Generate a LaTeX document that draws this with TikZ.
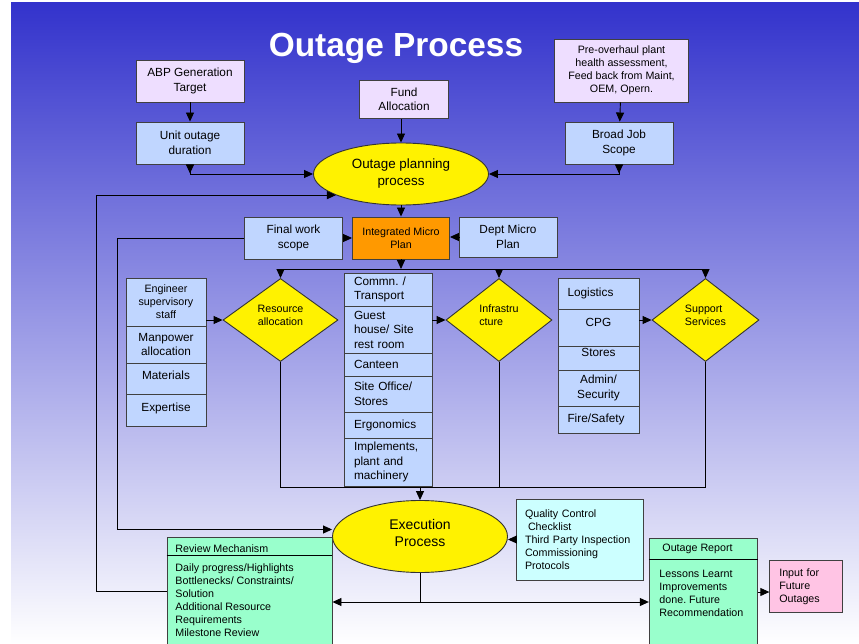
\documentclass[tikz,border=0pt]{standalone}
\usepackage{fontspec}
\setmainfont{Liberation Sans}
\usetikzlibrary{shapes.geometric,arrows.meta}
\definecolor{slidetop}{RGB}{51,51,204}
\definecolor{lilac}{RGB}{238,222,255}
\definecolor{paleblue}{RGB}{192,214,255}
\definecolor{deeporange}{RGB}{255,153,0}
\definecolor{mint}{RGB}{153,255,204}
\definecolor{paleaqua}{RGB}{204,255,255}
\definecolor{palepink}{RGB}{255,196,228}
\frenchspacing
\begin{document}
\begin{tikzpicture}[x=1pt, y=-1pt, line width=0.9pt,
  big/.style={font=\fontsize{11.8}{14.5}\selectfont},
  small/.style={font=\fontsize{10.7}{13}\selectfont},
  box/.style={draw=black!75, inner sep=0pt, align=center, big},
  cell/.style={box, fill=paleblue},
  dia/.style={diamond, draw=black!80, fill=yellow, inner sep=0pt, align=center, text depth=10pt, small},
  oval/.style={ellipse, draw=black!80, fill=yellow, inner sep=0pt, align=center},
  arr/.style={-{Triangle[length=9pt,width=8pt]}},
  twoarr/.style={{Triangle[reversed,length=9pt,width=8pt]}-{Triangle[length=9pt,width=8pt]}},
]
\fill[white] (0,0) rectangle (859,644);
\shade[top color=slidetop, bottom color=white] (11,3) rectangle (859,644);
\useasboundingbox (0,0) rectangle (859,644);
\node[text=white, font=\fontsize{33.4}{40}\bfseries\selectfont] (title) at (396,48) {Outage Process};
\node[box, fill=lilac, minimum width=108, minimum height=42] (abp) at (190,81) {ABP Generation\\Target};
\node[box, fill=paleblue, minimum width=108, minimum height=42] (unit) at (190,143) {Unit outage\\duration};
\draw[arr] (abp) -- (unit);
\node[box, fill=lilac, minimum width=89, minimum height=38] (fund) at (404,99.5) {Fund\\Allocation};
\node[box, fill=lilac, small, minimum width=134, minimum height=63] (pre) at (621.5,70.5) {Pre-overhaul plant\\health assessment,\\Feed back from Maint,\\OEM, Opern.};
\node[box, fill=paleblue, minimum width=108, minimum height=42] (broad) at (619,143) {Broad Job\\Scope};
\draw[arr] (pre) -- (broad);
\node[oval, minimum width=175, minimum height=62, font=\fontsize{13.4}{17}\selectfont] (plan) at (401,174) {Outage planning\\process};
\draw[arr] (fund.south -| plan.north) -- (plan.north);
\draw[twoarr] (unit.south) |- (plan.west);
\draw[twoarr] (broad.south) |- (plan.east);
\node[box, fill=paleblue, minimum width=98, minimum height=42] (final) at (293.5,238) {Final work\\scope};
\node[box, fill=deeporange, small, minimum width=97, minimum height=42] (micro) at (401,238) {Integrated Micro\\Plan};
\node[box, fill=paleblue, minimum width=98, minimum height=40] (dept) at (508,237) {Dept Micro\\Plan};
\draw[arr] (plan) -- (micro);
\draw[arr] (final) -- (micro);
\draw[arr] (dept.west) -- (dept.west -| micro.east);
\coordinate (split) at (401,269);
\draw[arr] (micro) -- (split);
\node[dia, minimum width=115, minimum height=83] (resource) at (280.5,320) {Resource\\allocation};
\node[dia, align=left, minimum width=106, minimum height=83] (infra) at (499,320) {Infrastru\\cture};
\node[dia, align=left, minimum width=107, minimum height=83] (support) at (705.5,320) {Support\\Services};
\draw[arr] (split) -| (resource);
\draw[arr] (split) -| (infra);
\draw[arr] (split) -| (support);
\node[cell, small, minimum width=80, minimum height=48] (engineer) at (166,302) {Engineer\\supervisory\\staff};
\node[cell, minimum width=80, minimum height=37] (manpower) at (166,344.5) {Manpower\\allocation};
\node[cell, text depth=6pt, minimum width=80, minimum height=31] (materials) at (166,378.5) {Materials};
\node[cell, text depth=6pt, minimum width=80, minimum height=32] (expertise) at (166,410) {Expertise};
\draw[arr] (engineer.east |- resource.west) -- (resource.west);
\node[cell, align=left, text width=68, minimum width=88, minimum height=33] (commn) at (388,289.5) {Commn. /\\Transport};
\node[cell, align=left, text width=68, minimum width=88, minimum height=47] (guest) at (388,329.5) {Guest\\house/ Site\\rest room};
\node[cell, align=left, text width=68, minimum width=88, minimum height=23] (canteen) at (388,364.5) {Canteen};
\node[cell, align=left, text width=68, minimum width=88, minimum height=36] (office) at (388,394) {Site Office/\\Stores};
\node[cell, align=left, text width=68, minimum width=88, minimum height=26] (ergo) at (388,425) {Ergonomics};
\node[cell, align=left, text width=68, minimum width=88, minimum height=48] (implements) at (388,462) {Implements,\\plant and\\machinery};
\draw[arr] (guest.east |- infra.west) -- (infra.west);
\node[cell, align=left, text width=62, minimum width=81, minimum height=31] (logistics) at (598.5,293.5) {Logistics};
\node[cell, text depth=10pt, minimum width=81, minimum height=37] (cpg) at (598.5,327.5) {CPG};
\node[cell, text depth=11pt, minimum width=81, minimum height=24] (stores) at (598.5,358) {Stores};
\node[cell, minimum width=81, minimum height=36] (admin) at (598.5,388) {Admin/\\Security};
\node[cell, align=left, text width=62, minimum width=81, minimum height=27] (fire) at (598.5,419.5) {Fire/Safety};
\draw[arr] (cpg.east |- support.west) -- (support.west);
\coordinate (merge) at (420,487);
\draw (resource.south) |- (merge);
\draw (infra.south) |- (merge);
\draw (support.south) |- (merge);
\node[oval, minimum width=175, minimum height=72, text depth=8pt, font=\fontsize{14}{17}\selectfont] (exec) at (420,536.5) {Execution\\Process};
\draw[arr] (merge) -- (exec);
\draw[arr] (final.west) -- ++(-127,0) |- ([yshift=7pt]exec.west);
\node[box, fill=paleaqua, small, align=left, text width=110, minimum width=127, minimum height=81] (qc) at (580,539.5) {Quality Control\\\hspace*{3pt}Checklist\\Third Party Inspection\\Commissioning\\Protocols};
\draw[arr] (qc.west) -- (qc.west -| exec.east);
\node[box, fill=mint, minimum width=165, minimum height=108] (review) at (249.5,591) {};
\node[small, anchor=west, inner sep=0pt] (reviewhead) at (175,548.3) {Review Mechanism};
\draw ([yshift=-19pt]review.north west) -- ([yshift=-19pt]review.north east);
\node[small, anchor=north west, align=left, inner sep=0pt] (reviewtext) at (175,563.3) {Daily progress/Highlights\\Bottlenecks/ Constraints/\\Solution\\Additional Resource\\Requirements\\Milestone Review};
\node[box, fill=mint, minimum width=108, minimum height=108] (report) at (703.3,592) {};
\node[small, anchor=west, inner sep=0pt] (reporthead) at (662,549.3) {Outage Report};
\draw ([yshift=-21.5pt]report.north west) -- ([yshift=-21.5pt]report.north east);
\node[small, anchor=north west, align=left, inner sep=0pt] (reporttext) at (659,570) {Lessons Learnt\\Improvements\\done. Future\\Recommendation};
\node[box, fill=palepink, small, align=left, text width=54, minimum width=73, minimum height=52] (input) at (806.3,586.7) {Input for\\Future\\Outages};
\draw[arr] (report.east) -- (report.east -| input.west);
\coordinate (fork) at (420,602);
\draw (exec) -- (fork);
\draw[arr] (fork) -- (fork -| review.east);
\draw[arr] (fork) -- (fork -| report.west);
\draw[arr] (review.west) -- ++(-70,0) |- (plan.198);
\end{tikzpicture}
\end{document}
